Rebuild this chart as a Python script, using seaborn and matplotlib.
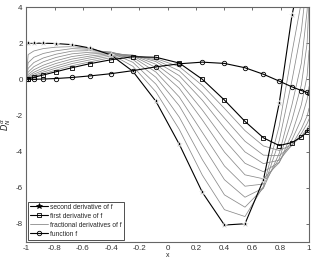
import matplotlib
matplotlib.use("Agg")
import matplotlib.pyplot as plt
from matplotlib.lines import Line2D
import seaborn as sns
import pandas as pd

# Chebyshev nodes (N = 19), ascending
x_nodes = [-1.0, -0.9864, -0.9458, -0.8795, -0.7891, -0.6773, -0.5469, -0.4017, -0.2455, -0.0826,
           0.0826, 0.2455, 0.4017, 0.5469, 0.6773, 0.7891, 0.8795, 0.9458, 0.9864, 1.0]

f_vals = [0.0, 0.0, 0.003, 0.015, 0.044, 0.10, 0.19, 0.31, 0.48, 0.69,
          0.86, 0.95, 0.88, 0.64, 0.28, -0.10, -0.42, -0.62, -0.73, -0.77]

d1_vals = [0.0, 0.03, 0.11, 0.24, 0.42, 0.64, 0.87, 1.08, 1.25, 1.22,
           0.90, 0.0, -1.15, -2.33, -3.24, -3.67, -3.50, -3.20, -2.90, -2.80]

d2_vals = [2.0, 2.0, 2.0, 2.0, 1.98, 1.92, 1.73, 1.35, 0.44, -1.22,
           -3.60, -6.26, -8.07, -8.00, -5.57, -1.32, 3.55, 6.0, 9.0, 10.0]

alphas = [1.1, 1.2, 1.3, 1.4, 1.5, 1.6, 1.7, 1.8, 1.9]

# fractional derivative values, one row per node, one column per alpha
frac_rows = [
    [0, 0, 0, 0, 0, 0, 0, 0, 0],
    [0.04, 0.07, 0.11, 0.17, 0.26, 0.40, 0.61, 0.92, 1.37],
    [0.15, 0.21, 0.29, 0.39, 0.53, 0.70, 0.93, 1.22, 1.57],
    [0.31, 0.40, 0.50, 0.63, 0.78, 0.97, 1.18, 1.43, 1.70],
    [0.51, 0.62, 0.74, 0.88, 1.03, 1.21, 1.39, 1.58, 1.78],
    [0.75, 0.87, 0.99, 1.12, 1.26, 1.41, 1.56, 1.70, 1.81],
    [0.97, 1.08, 1.19, 1.29, 1.40, 1.50, 1.59, 1.66, 1.71],
    [1.20, 1.29, 1.37, 1.43, 1.48, 1.51, 1.51, 1.47, 1.39],
    [1.30, 1.33, 1.34, 1.33, 1.29, 1.22, 1.10, 0.94, 0.72],
    [1.15, 1.07, 0.98, 0.83, 0.65, 0.40, 0.11, -0.27, -0.70],
    [0.70, 0.47, 0.20, -0.13, -0.50, -0.98, -1.47, -2.10, -2.78],
    [-0.34, -0.75, -1.16, -1.70, -2.25, -2.94, -3.63, -4.45, -5.31],
    [-1.61, -2.15, -2.70, -3.36, -4.03, -4.80, -5.56, -6.40, -7.22],
    [-2.84, -3.43, -4.02, -4.65, -5.29, -5.92, -6.53, -7.08, -7.60],
    [-3.69, -4.20, -4.67, -5.12, -5.51, -5.80, -6.02, -6.03, -5.93],
    [-3.94, -4.23, -4.48, -4.60, -4.62, -4.40, -4.10, -3.40, -2.58],
    [-3.63, -3.66, -3.63, -3.35, -2.99, -2.25, -1.40, -0.05, 1.49],
    [-3.15, -3.00, -2.74, -2.20, -1.40, -0.30, 0.90, 2.70, 4.30],
    [-2.73, -2.45, -2.03, -1.10, 0.20, 2.00, 3.80, 5.60, 7.20],
    [-2.56, -2.20, -1.60, -0.40, 1.60, 4.40, 6.50, 8.00, 9.50],
]

xticks = [-1, -0.8, -0.6, -0.4, -0.2, 0, 0.2, 0.4, 0.6, 0.8, 1]
xtick_labels = ['-1', '-0.8', '-0.6', '-0.4', '-0.2', '0', '0.2', '0.4', '0.6', '0.8', '1']
yticks = [-8, -6, -4, -2, 0, 2, 4]

sns.set_style("white")
plt.rcParams['font.family'] = ['Liberation Sans', 'DejaVu Sans']
plt.rcParams['axes.unicode_minus'] = False

fig = plt.figure(figsize=(3.16, 2.62), dpi=100)
ax = fig.add_axes([0.083, 0.077, 0.895, 0.896])

frac = pd.DataFrame(frac_rows, columns=alphas)
frac['x'] = x_nodes
frac_long = frac.melt(id_vars='x', var_name='alpha', value_name='value')

gray = '#8a8a8a'
sns.lineplot(data=frac_long, x='x', y='value', units='alpha', estimator=None, sort=False,
             color=gray, linewidth=0.55, ax=ax, legend=False)

sns.lineplot(x=x_nodes, y=d2_vals, sort=False, color='black', linewidth=0.8,
             marker='*', markersize=4, markeredgewidth=0.5, ax=ax)
sns.lineplot(x=x_nodes, y=d1_vals, sort=False, color='black', linewidth=0.8,
             marker='s', markersize=3, markerfacecolor='none', markeredgecolor='black',
             markeredgewidth=0.6, ax=ax)
sns.lineplot(x=x_nodes, y=f_vals, sort=False, color='black', linewidth=0.8,
             marker='o', markersize=3.2, markerfacecolor='none', markeredgecolor='black',
             markeredgewidth=0.6, ax=ax)

handles = [
    Line2D([], [], color='black', lw=0.8, marker='*', ms=4, mew=0.5),
    Line2D([], [], color='black', lw=0.8, marker='s', ms=3, mfc='none', mew=0.6),
    Line2D([], [], color=gray, lw=0.6),
    Line2D([], [], color='black', lw=0.8, marker='o', ms=3.2, mfc='none', mew=0.6),
]
labels = ['second derivative of f', 'first derivative of f',
          'fractional derivatives of f', 'function f']
leg = ax.legend(handles, labels, loc='lower left', frameon=True, fancybox=False,
                prop={'family': ['Liberation Sans Narrow', 'Liberation Sans'], 'size': 4.8},
                edgecolor='black', handlelength=2.6, borderpad=0.3, labelspacing=0.3,
                handletextpad=0.4, borderaxespad=0.3)
leg.get_frame().set_linewidth(0.6)

ax.set_xlim(-1, 1)
ax.set_ylim(-9, 4)
ax.set_xticks(xticks)
ax.set_xticklabels(xtick_labels)
ax.set_yticks(yticks)
ax.tick_params(direction='in', top=True, right=True, length=2.5, width=0.5,
               labelsize=5.8, pad=2.5, colors='#333333')
for s in ax.spines.values():
    s.set_color('#666666')
    s.set_linewidth(0.8)

ax.set_xlabel('x', fontsize=5, labelpad=0)
ax.set_ylabel(r'$D_N^{\alpha}$', fontsize=6, labelpad=2)

fig.savefig('out.png', dpi=100)
